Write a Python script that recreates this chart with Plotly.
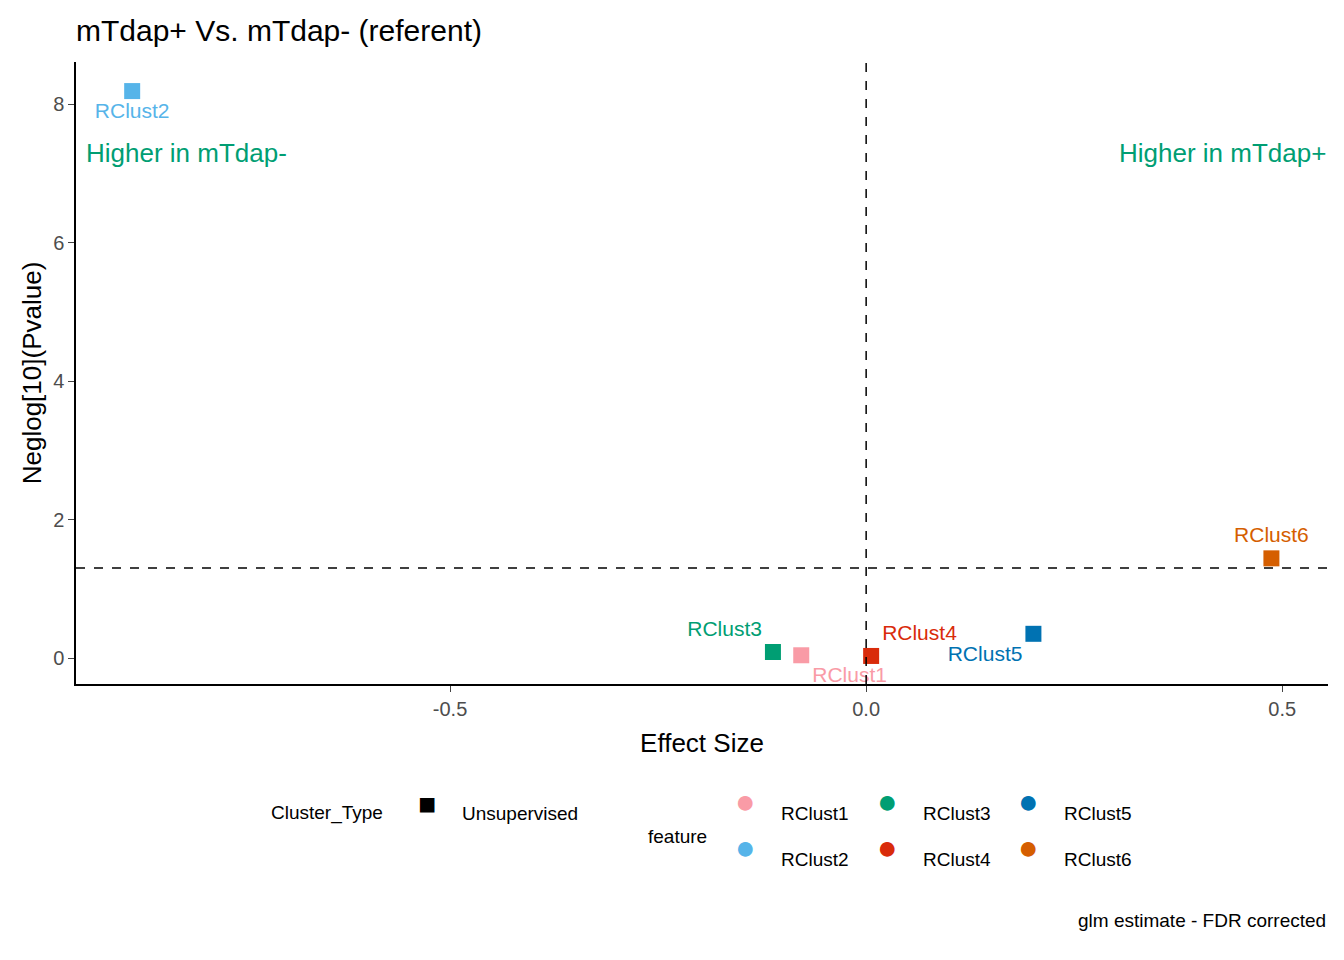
import plotly.graph_objects as go

features = ["RClust1", "RClust2", "RClust3", "RClust4", "RClust5", "RClust6"]
effect = [-0.078, -0.882, -0.112, 0.006, 0.201, 0.487]
neglogp = [0.04, 8.19, 0.087, 0.03, 0.35, 1.44]
colors = ["#F99BA6", "#56B4E9", "#009E73", "#D92B0A", "#0072B2", "#D55E00"]
# label placement roughly as in the ggrepel output
label_pos = ["bottom right", "bottom center", "top left", "top right", "bottom left", "top center"]

fig = go.Figure()
for f, x, y, c, p in zip(features, effect, neglogp, colors, label_pos):
    fig.add_trace(go.Scatter(
        x=[x], y=[y], mode="markers+text", text=[f], textposition=p,
        marker=dict(symbol="square", size=16, color=c),
        textfont=dict(color=c, size=21), showlegend=False, cliponaxis=False
    ))

fig.add_hline(y=1.301, line=dict(color="black", dash="dash", width=1.5))
fig.add_vline(x=0, line=dict(color="black", dash="dash", width=1.5))

fig.add_annotation(x=-0.94, y=7.3, text="Higher in mTdap-", showarrow=False, xanchor="left",
                   font=dict(color="#009E73", size=26))
fig.add_annotation(x=0.555, y=7.3, text="Higher in mTdap+", showarrow=False, xanchor="right",
                   font=dict(color="#009E73", size=26))

# legend drawn by hand (ggplot style)
leg = dict(xref="paper", yref="paper", showarrow=False, font=dict(size=19, color="black"))
fig.add_annotation(x=(269 - 76) / 1252, y=-(826 - 684) / 622, text="Cluster_Type", xanchor="left", **leg)
fig.add_annotation(x=(427 - 76) / 1252, y=-(822 - 684) / 622, text="■", xanchor="center",
                   xref="paper", yref="paper", showarrow=False, font=dict(size=30, color="black"))
fig.add_annotation(x=(460 - 76) / 1252, y=-(826 - 684) / 622, text="Unsupervised", xanchor="left", **leg)
fig.add_annotation(x=(646 - 76) / 1252, y=-(849 - 684) / 622, text="feature", xanchor="left", **leg)
cols = [745, 887, 1028]
rows = [826, 872]
for i, (f, c) in enumerate(zip(features, colors)):
    cx = cols[i // 2]
    cy = rows[i % 2]
    fig.add_annotation(x=(cx - 76) / 1252, y=-(cy - 4 - 684) / 622, text="●", xanchor="center",
                       xref="paper", yref="paper", showarrow=False, font=dict(size=34, color=c))
    fig.add_annotation(x=(cx + 34 - 76) / 1252, y=-(cy - 684) / 622, text=f, xanchor="left", **leg)

fig.add_annotation(x=1, y=-(933 - 684) / 622, text="glm estimate - FDR corrected", xanchor="right", **leg)

fig.update_layout(
    width=1336, height=952, plot_bgcolor="white", paper_bgcolor="white",
    font=dict(family="Liberation Sans, Arial", color="black"),
    margin=dict(l=68, r=16, t=54, b=276),
    title=dict(text="mTdap+ Vs. mTdap- (referent)", x=68 / 1336, xanchor="left",
               y=1 - 22 / 952, yanchor="middle", font=dict(size=30)),
)
fig.update_xaxes(range=[-0.9495, 0.555], tickvals=[-0.5, 0, 0.5], ticktext=["-0.5", "0.0", "0.5"],
                 showgrid=False, zeroline=False, showline=True, linecolor="black", linewidth=1.5,
                 ticks="outside", ticklen=6, tickfont=dict(size=20, color="#4D4D4D"),
                 title=dict(text="Effect Size", font=dict(size=26)))
fig.update_yaxes(range=[-0.375, 8.61], tickvals=[0, 2, 4, 6, 8],
                 showgrid=False, zeroline=False, showline=True, linecolor="black", linewidth=1.5,
                 ticks="outside", ticklen=6, tickfont=dict(size=20, color="#4D4D4D"),
                 title=dict(text="Neglog[10](Pvalue)", font=dict(size=26), standoff=4))

fig.write_html("out.html")
